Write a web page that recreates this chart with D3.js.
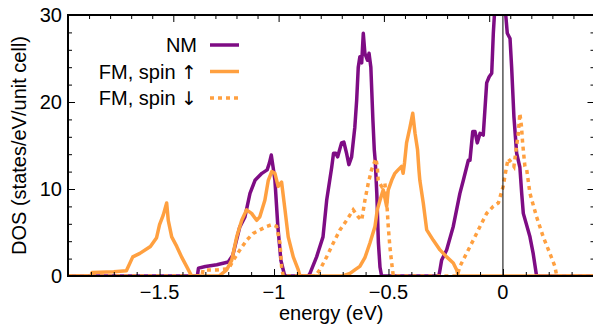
<!DOCTYPE html>
<html>
<head>
<meta charset="utf-8">
<script src="https://cdn.jsdelivr.net/npm/d3@7"></script>
<style>
  body { margin: 0; background: #fff; }
  text { font-family: "Liberation Sans", Arial, Helvetica, sans-serif; fill: #000; }
</style>
</head>
<body>
<div id="chart"></div>
<script>
// NM (non-magnetic) density of states
var nmEnergy = [-1.9, -1.335, -1.33, -1.30, -1.25, -1.20, -1.18, -1.165, -1.15, -1.127, -1.105, -1.083, -1.053, -1.03, -1.02, -1.012, -1.004, -0.996, -0.983, -0.97, -0.955, -0.95,
  -0.85, -0.843, -0.814, -0.786, -0.77, -0.748, -0.74, -0.73, -0.722, -0.705, -0.695, -0.683, -0.673, -0.661, -0.647, -0.639, -0.632, -0.625, -0.617, -0.61, -0.603, -0.592, -0.585, -0.577, -0.568, -0.562, -0.558, -0.551, -0.544, -0.537, -0.53,
  -0.28, -0.275, -0.268, -0.246, -0.217, -0.188, -0.173, -0.151, -0.144, -0.132, -0.122, -0.112, -0.100, -0.086, -0.071, -0.060, -0.049, -0.042, -0.035, -0.02, 0.0, 0.009, 0.019, 0.031, 0.038, 0.048, 0.060, 0.074, 0.082, 0.089, 0.118, 0.132, 0.147, 0.4];
var nmDos = [0, 0, 0.9, 1.1, 1.3, 1.6, 2.4, 4.0, 5.6, 6.8, 9.5, 11.0, 11.8, 12.2, 13.0, 13.9, 12.5, 11.0, 5.6, 1.8, 0.2, 0,
  0, 0.3, 2.2, 4.5, 8.7, 12.5, 14.1, 14.1, 13.7, 15.3, 15.4, 14.1, 12.8, 13.7, 17.1, 20.2, 24.0, 25.2, 24.5, 27.9, 25.6, 24.8, 25.6, 24.0, 17.9, 14.5, 13.3, 9.5, 3.8, 1.0, 0,
  0, 0.7, 1.8, 3.0, 5.7, 9.5, 11.0, 13.3, 13.3, 16.6, 16.6, 15.3, 16.4, 16.2, 22.2, 22.9, 23.3, 27.9, 31, 33, 33, 31, 27.9, 27.3, 24.0, 18.3, 14.1, 12.5, 9.5, 7.2, 4.5, 2.6, 0, 0];

// FM, spin up
var upEnergy = [-1.9, -1.80, -1.795, -1.70, -1.645, -1.617, -1.586, -1.54, -1.513, -1.50, -1.484, -1.469, -1.462, -1.447, -1.425, -1.404, -1.382, -1.36,
  -1.24, -1.207, -1.185, -1.163, -1.141, -1.12, -1.098, -1.076, -1.062, -1.04, -1.025, -1.01, -0.996, -0.982, -0.967, -0.952, -0.938, -0.916, -0.894, -0.887,
  -0.70, -0.668, -0.647, -0.625, -0.603, -0.581, -0.559, -0.549, -0.537, -0.523, -0.508, -0.501, -0.486, -0.472, -0.458, -0.443, -0.436, -0.43, -0.421, -0.406, -0.394, -0.384, -0.373, -0.367, -0.363, -0.348, -0.333, -0.304, -0.275, -0.246, -0.217, -0.202, -0.195, 0.4];
var upDos = [0, 0, 0.4, 0.5, 0.6, 2.2, 2.6, 3.4, 4.4, 5.9, 7.0, 8.4, 6.4, 4.5, 3.4, 2.2, 1.1, 0,
  0, 0.7, 1.8, 4.5, 6.4, 7.6, 7.2, 6.4, 6.8, 8.7, 11.0, 12.0, 11.8, 10.3, 10.8, 7.6, 4.5, 2.2, 0.7, 0,
  0, 0.3, 0.7, 1.1, 2.1, 3.8, 5.7, 7.6, 8.7, 9.9, 8.0, 9.9, 11.0, 11.8, 12.2, 12.6, 11.8, 13.0, 15.3, 17.1, 18.7, 16.4, 14.5, 12.2, 11.0, 8.4, 5.3, 4.1, 3.0, 2.2, 1.5, 0.7, 0, 0];

// FM, spin down
var downEnergy = [-1.9, -1.315, -1.31, -1.25, -1.207, -1.193, -1.178, -1.149, -1.12, -1.091, -1.062, -1.032, -1.01, -0.989, -0.974, -0.967, -0.96,
  -0.82, -0.80, -0.77, -0.741, -0.712, -0.683, -0.654, -0.632, -0.617, -0.603, -0.588, -0.574, -0.555, -0.549, -0.545, -0.53, -0.516, -0.508, -0.501, -0.494, -0.486, -0.479,
  -0.20, -0.188, -0.159, -0.13, -0.10, -0.071, -0.042, -0.02, 0.001, 0.016, 0.023, 0.038, 0.048, 0.067, 0.074, 0.081, 0.086, 0.096, 0.104, 0.118, 0.147, 0.176, 0.205, 0.227, 0.235, 0.4];
var downDos = [0, 0, 0.7, 0.7, 0.8, 1.1, 1.8, 3.0, 4.1, 4.9, 5.3, 5.7, 5.9, 5.7, 3.8, 1.1, 0,
  0, 0.7, 2.2, 3.8, 5.3, 6.4, 7.6, 6.8, 6.4, 8.7, 10.7, 12.2, 13.5, 12.6, 11.0, 10.3, 10.7, 8.7, 5.7, 3.4, 1.5, 0,
  0, 1.1, 2.6, 4.1, 5.7, 7.2, 8.0, 8.4, 10.3, 12.6, 13.5, 13.0, 12.6, 16.4, 18.7, 17.2, 15.3, 12.6, 12.2, 9.5, 6.8, 4.5, 2.6, 1.1, 0, 0];

// axis ticks and labels
var xMajor = [-1.5, -1, -0.5, 0];
var xMinor = [-1.9, -1.8, -1.7, -1.6, -1.4, -1.3, -1.2, -1.1, -0.9, -0.8, -0.7, -0.6, -0.4, -0.3, -0.2, -0.1, 0.1, 0.2, 0.3];
var xLabels = ["\u22121.5", "\u22121", "\u22120.5", "0"];
var yMajor = [0, 10, 20, 30];
var yMinor = [2, 4, 6, 8, 12, 14, 16, 18, 22, 24, 26, 28];
var topMajor = [0, 1, 2, 3, 4, 5];
var topMinor = [0.2, 0.4, 0.6, 0.8, 1.2, 1.4, 1.6, 1.8, 2.2, 2.4, 2.6, 2.8, 3.2, 3.4, 3.6, 3.8, 4.2, 4.4, 4.6, 4.8];

var seriesNames = ["NM", "FM, spin ", "FM, spin "];
var seriesArrows = ["", "\u2191", "\u2193"];

// set the dimensions and margins of the graph
var W = 593, H = 329;
var mLeft = 68, mRight = 594.5, mTop = 15, mBottom = 276;

var purple = "#7e0c84", orange = "#ffa040";

// set the ranges
var x = d3.scaleLinear().domain([-1.9, 0.4]).range([mLeft, mRight]);
var x2 = d3.scaleLinear().domain([0, 5]).range([mLeft, mRight]);
var y = d3.scaleLinear().domain([0, 30]).range([mBottom, mTop]);

var svg = d3.select("#chart").append("svg")
  .attr("width", W)
  .attr("height", H);

svg.append("clipPath").attr("id", "clip")
  .append("rect")
  .attr("x", mLeft).attr("y", mTop)
  .attr("width", mRight - mLeft).attr("height", mBottom - mTop);

function pairs(es, ds) {
  return es.map(function (e, i) { return [e, ds[i]]; });
}

var valueline = d3.line()
  .x(function (d) { return x(d[0]); })
  .y(function (d) { return y(d[1]); });

var plot = svg.append("g").attr("clip-path", "url(#clip)");

// curves
plot.append("path")
  .attr("d", valueline(pairs(nmEnergy, nmDos)))
  .attr("fill", "none").attr("stroke", purple).attr("stroke-width", 3.5)
  .attr("stroke-linejoin", "round");

plot.append("path")
  .attr("d", valueline(pairs(upEnergy, upDos)))
  .attr("fill", "none").attr("stroke", orange).attr("stroke-width", 3.5)
  .attr("stroke-linejoin", "round");

plot.append("path")
  .attr("d", valueline(pairs(downEnergy, downDos)))
  .attr("fill", "none").attr("stroke", orange).attr("stroke-width", 3.5)
  .attr("stroke-dasharray", "4,4");

// Fermi level
plot.append("line")
  .attr("x1", x(0)).attr("x2", x(0))
  .attr("y1", y(0)).attr("y2", y(30))
  .attr("stroke", "#000").attr("stroke-width", 1);

// ticks only, pointing inside
function tickAxis(axis, sel) {
  sel.call(axis);
  sel.select(".domain").remove();
  sel.selectAll("line").attr("stroke", "#000").attr("stroke-width", 1);
  sel.selectAll("text").remove();
}

// Add the X Axis (bottom)
tickAxis(d3.axisBottom(x).tickValues(xMajor).tickSize(-7),
  svg.append("g").attr("transform", "translate(0," + mBottom + ")"));
tickAxis(d3.axisBottom(x).tickValues(xMinor).tickSize(-4),
  svg.append("g").attr("transform", "translate(0," + mBottom + ")"));

// top axis
tickAxis(d3.axisTop(x2).tickValues(topMajor).tickSize(-7),
  svg.append("g").attr("transform", "translate(0," + mTop + ")"));
tickAxis(d3.axisTop(x2).tickValues(topMinor).tickSize(-4),
  svg.append("g").attr("transform", "translate(0," + mTop + ")"));

// Y axes, left and right
tickAxis(d3.axisLeft(y).tickValues(yMajor).tickSize(-7),
  svg.append("g").attr("transform", "translate(" + mLeft + ",0)"));
tickAxis(d3.axisLeft(y).tickValues(yMinor).tickSize(-4),
  svg.append("g").attr("transform", "translate(" + mLeft + ",0)"));
tickAxis(d3.axisRight(y).tickValues(yMajor).tickSize(-7),
  svg.append("g").attr("transform", "translate(" + mRight + ",0)"));
tickAxis(d3.axisRight(y).tickValues(yMinor).tickSize(-4),
  svg.append("g").attr("transform", "translate(" + mRight + ",0)"));

// border
svg.append("rect")
  .attr("x", mLeft).attr("y", mTop)
  .attr("width", mRight - mLeft).attr("height", mBottom - mTop)
  .attr("fill", "none").attr("stroke", "#000").attr("stroke-width", 2);

// tick labels
svg.selectAll(".xlab").data(xMajor).enter().append("text")
  .attr("class", "xlab")
  .attr("x", function (d) { return x(d); })
  .attr("y", 298.5)
  .attr("text-anchor", "middle")
  .style("font-size", "20px")
  .text(function (d, i) { return xLabels[i]; });

svg.selectAll(".ylab").data(yMajor).enter().append("text")
  .attr("class", "ylab")
  .attr("x", 62)
  .attr("y", function (d) { return y(d); })
  .attr("dy", "0.36em")
  .attr("text-anchor", "end")
  .style("font-size", "20px")
  .text(function (d) { return d; });

// axis titles
svg.append("text")
  .attr("x", (mLeft + mRight) / 2).attr("y", 320)
  .attr("text-anchor", "middle")
  .style("font-size", "20px")
  .text("energy (eV)");

svg.append("text")
  .attr("transform", "translate(26," + (mTop + mBottom) / 2 + ") rotate(-90)")
  .attr("text-anchor", "middle")
  .style("font-size", "20px")
  .text("DOS (states/eV/unit cell)");

// legend
var legendY = [45, 71.5, 98];
var legendDash = [null, null, "4,4"];
var legendColor = [purple, orange, orange];
seriesNames.forEach(function (name, i) {
  var t = svg.append("text")
    .attr("x", 197).attr("y", legendY[i])
    .attr("dy", "0.36em")
    .attr("text-anchor", "end")
    .style("font-size", "20px")
    .text(name);
  if (seriesArrows[i]) {
    t.append("tspan")
      .style("font-family", "'DejaVu Sans'")
      .style("font-size", "19px")
      .text(seriesArrows[i]);
  }
  svg.append("line")
    .attr("x1", 210).attr("x2", 239)
    .attr("y1", legendY[i]).attr("y2", legendY[i])
    .attr("stroke", legendColor[i]).attr("stroke-width", 3.5)
    .attr("stroke-dasharray", legendDash[i]);
});
</script>
</body>
</html>
